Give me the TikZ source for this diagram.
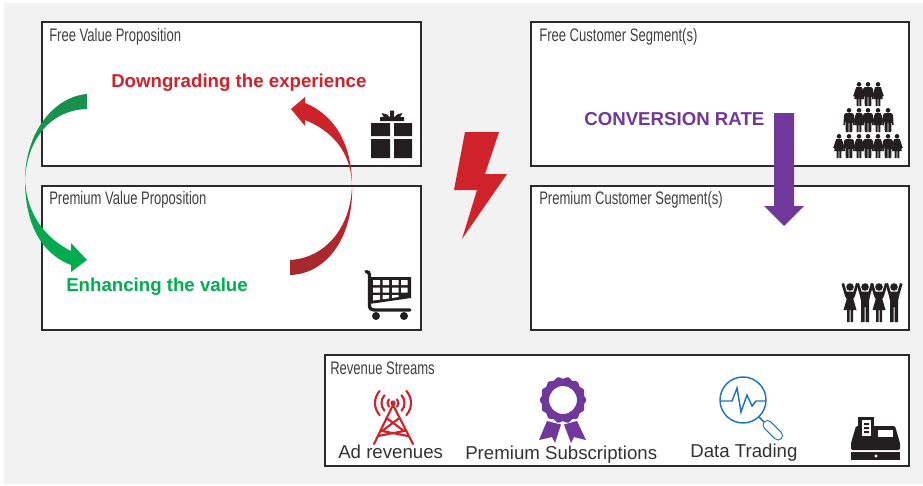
\documentclass[tikz,border=0pt]{standalone}
\usepackage{fontspec}
\setmainfont{Liberation Sans}
\newfontfamily\narrowf[FakeStretch=0.72]{Liberation Sans}
\definecolor{bgc}{HTML}{F2F2F2}
\definecolor{lnc}{HTML}{2B2B2B}
\definecolor{ink}{HTML}{231F20}
\definecolor{redc}{HTML}{D0222A}
\definecolor{darkred}{HTML}{A5282F}
\definecolor{grn}{HTML}{00AE4F}
\definecolor{dgrn}{HTML}{1B8E4D}
\definecolor{pur}{HTML}{70389A}
\definecolor{blu}{HTML}{1E75BB}
\tikzset{
  panel/.style={draw=lnc,fill=white,line width=1.2pt,inner sep=0pt,rectangle},
  title/.style={anchor=base west,inner sep=0pt,text=black!75,font=\narrowf\fontsize{13.6}{16}\selectfont},
  bold14/.style={anchor=base west,inner sep=0pt,font=\bfseries\fontsize{14}{16}\selectfont},
  plain14/.style={anchor=base west,inner sep=0pt,text=black!80,font=\fontsize{14}{16}\selectfont},
  woman/.pic={
    \fill[ink] (0,2.3) circle (2.3);
    \fill[ink] (-2.8,5)--(2.8,5)--(5.8,14)--(4.4,14.6)--(3.2,11)--(4.8,17)--(2.4,17)--(2.4,24)--(.3,24)--(.3,17)--(-.3,17)--(-.3,24)--(-2.4,24)--(-2.4,17)--(-4.8,17)--(-3.2,11)--(-4.4,14.6)--(-5.8,14)--cycle;
  },
  man/.pic={
    \fill[ink] (0,2.3) circle (2.3);
    \fill[ink] (-3.2,5)--(3.2,5)--(5,7)--(5.6,17)--(4.2,17)--(3.6,11)--(3.2,24)--(.4,24)--(.4,15)--(-.4,15)--(-.4,24)--(-3.2,24)--(-3.6,11)--(-4.2,17)--(-5.6,17)--(-5,7)--cycle;
  },
  upwoman/.pic={
    \fill[ink] (0,4) circle (3.8);
    \fill[ink] (-8.5,1)--(-6,0)--(-3.5,8.5)--(3.5,8.5)--(6,0)--(8.5,1)--(5,13)--(3.3,16)--(6.5,27)--(3,27)--(3,39)--(.5,39)--(.5,27)--(-.5,27)--(-.5,39)--(-3,39)--(-3,27)--(-6.5,27)--(-3.3,16)--(-5,13)--cycle;
  },
  upman/.pic={
    \fill[ink] (0,4) circle (3.8);
    \fill[ink] (-8.5,1)--(-6,0)--(-3.5,8.5)--(3.5,8.5)--(6,0)--(8.5,1)--(5,13)--(4,18)--(4,39)--(.5,39)--(.5,24)--(-.5,24)--(-.5,39)--(-4,39)--(-4,18)--(-5,13)--cycle;
  }
}
\begin{document}
\begin{tikzpicture}[x=0.75pt,y=-0.75pt]
\useasboundingbox (0,0) rectangle (923,485);
\fill[bgc] (4,3.5) rectangle (923,484);

% panels
\node[panel,minimum width=284.25pt,minimum height=108pt] (fvp) at (231.5,94) {};
\node[panel,minimum width=284.25pt,minimum height=108pt] (pvp) at (231.5,258) {};
\node[panel,minimum width=283.5pt,minimum height=108pt] (fcs) at (720,94) {};
\node[panel,minimum width=283.5pt,minimum height=108pt] (pcs) at (720,258) {};
\node[panel,minimum width=438pt,minimum height=83.25pt] (rev) at (617,410.5) {};

% titles
\node[title] (tfvp) at (49,41) {Free Value Proposition};
\node[title] (tpvp) at (49,204) {Premium Value Proposition};
\node[title] (tfcs) at (539,41) {Free Customer Segment(s)};
\node[title] (tpcs) at (539,204) {Premium Customer Segment(s)};
\node[title] (trev) at (330,374) {Revenue Streams};

% green arrow
\shade[top color=dgrn,bottom color=grn,middle color=dgrn!35!grn]
  (87,94) .. controls (52,97) and (25,135) .. (25,180)
  .. controls (25,225) and (42,254) .. (71,265)
  -- (71,272) -- (87,260) -- (71,243) -- (71,251)
  .. controls (49,240) and (27,218) .. (25,180)
  .. controls (27,140) and (50,110) .. (87,109) -- cycle;

% red arrow
\shade[top color=redc,bottom color=darkred,middle color=redc!65!darkred]
  (290,260) .. controls (325,258) and (351,228) .. (352,185)
  .. controls (352,145) and (335,115) .. (305,103)
  -- (305,97) -- (291,109) -- (305,126) -- (305,120)
  .. controls (330,130) and (351,150) .. (352,185)
  .. controls (354,235) and (328,274) .. (290,275) -- cycle;

% bold labels
\node[bold14,text=redc] (ldown) at (111,87) {Downgrading the experience};
\node[bold14,text=grn] (lenh) at (66,291) {Enhancing the value};
\node[bold14,text=pur] (lconv) at (584,125) {CONVERSION RATE};

% bolt
\fill[redc] (465,132) -- (499,132) -- (485,174) -- (507,174) -- (462,239) -- (477,190) -- (454,190) -- cycle;

% purple arrow
\fill[pur] (774,113) -- (794,113) -- (794,206) -- (804,206) -- (784,226) -- (764,206) -- (774,206) -- cycle;

% gift
\fill[ink] (371,123) rectangle (390,136) (394,123) rectangle (412,136)
           (371,139) rectangle (390,158) (394,139) rectangle (412,158)
           (380,117) rectangle (404,121);
\fill[ink] (384,117.5) -- (381.5,113) -- (387,114.5) -- (390,117.5) -- (390,110.5) -- (394,110.5) -- (394,117.5) -- (397,114.5) -- (402.5,113) -- (400,117.5) -- cycle;

% cart
\draw[ink,line width=2.5pt,line cap=round] (366,271.5) .. controls (368,271.5) and (369.5,273) .. (369.5,275) -- (369.5,305) .. controls (369.5,308.5) and (371,310) .. (374,310) -- (410,310);
\fill[ink] (369,277) -- (411,277) -- (411,298) -- (369,304) -- cycle;
\fill[white] (373,280) rectangle (380,285) (382.5,280) rectangle (389,285) (392,280) rectangle (398.5,285) (401,280) rectangle (407.5,285)
             (373,287.5) rectangle (380,292.5) (382.5,287.5) rectangle (389,292.5) (392,287.5) rectangle (398.5,292.5) (401,287.5) rectangle (407.5,292.5);
\fill[white] (373,295) -- (380,295) -- (380,299.6) -- (373,300.6) -- cycle
             (382.5,295) -- (389,295) -- (389,298.4) -- (382.5,299.3) -- cycle
             (392,295) -- (398.5,295) -- (398.5,297) -- (392,298) -- cycle;
\fill[ink] (376,316) circle (4) (404,316) circle (4);

% people: pyramid
\foreach \hx/\kind in {859/woman,868/man,878/woman}
  \pic at (\hx,82) {\kind};
\foreach \hx/\kind in {849/man,859/woman,868/man,878/woman,888/man}
  \pic at (\hx,108) {\kind};
\foreach \hx/\kind in {839/woman,849/man,859/woman,868/man,878/woman,888/man,897/woman}
  \pic at (\hx,134) {\kind};

% people: raised arms
\foreach \hx/\kind in {850/upwoman,865/upman,879/upwoman,894/upman}
  \pic at (\hx,283) {\kind};

% tower
\fill[redc] (393,403) circle (2.6);
\begin{scope}[draw=redc,line width=1.6pt,line cap=round]
  \draw (393,405) -- (374,444) (393,405) -- (413,444);
  \draw (386.5,418) -- (404,431) -- (378,436) (399.5,418) -- (382,431) -- (408,436);
  \foreach \r in {5.5,11.5,18}{
    \draw ({393+\r*cos(138)},{403+\r*sin(138)}) arc[start angle=138,end angle=222,radius=\r];
    \draw ({393+\r*cos(42)},{403+\r*sin(42)}) arc[start angle=42,end angle=-42,radius=\r];
  }
\end{scope}

% rosette
\fill[pur,even odd rule] plot[domain=0:360,samples=181,smooth] ({563+(22.3+0.9*cos(14*\x))*cos(\x)},{400+(22.3+0.9*cos(14*\x))*sin(\x)}) -- cycle (563,400) circle (14);
\fill[pur] (547,421) -- (561,424.5) -- (555,443) -- (552,437) -- (539,440) -- cycle;
\fill[pur] (577,421) -- (564,424.5) -- (571,443) -- (574,437) -- (586,440) -- cycle;

% magnifier
\begin{scope}[blu,line width=1.1pt]
  \draw (743,400) circle (23);
  \draw[line join=miter] (720,401) -- (732,401) -- (737,388) -- (741,412) -- (747,395) -- (752,406) -- (756,401) -- (766,401);
  \draw (759,417) -- (764,422);
  \draw[line width=7.5pt,line cap=round] (767.5,425) -- (778,435.5);
  \draw[white,line width=5.8pt,line cap=round] (767.5,425) -- (778,435.5);
\end{scope}

% register
\fill[ink] (851,452) rectangle (900,459.5);
\fill[white] (876,456) circle (1.6);
\fill[ink,rounded corners=1pt] (851,450) -- (851,443) -- (856,426) -- (895,426) -- (900,443) -- (900,450) -- cycle;
\fill[ink] (858,417) rectangle (874,430);
\fill[white] (862,420) rectangle (871,436);
\fill[ink] (864,423) rectangle (869,425) (864,427) rectangle (869,429) (864,431) rectangle (869,433);
\fill[white] (878,430) rectangle (893,437);

% revenue labels
\node[plain14] (lad) at (338,458) {Ad revenues};
\node[plain14] (lsub) at (465,459) {Premium Subscriptions};
\node[plain14] (ldat) at (690,457) {Data Trading};
\end{tikzpicture}
\end{document}
